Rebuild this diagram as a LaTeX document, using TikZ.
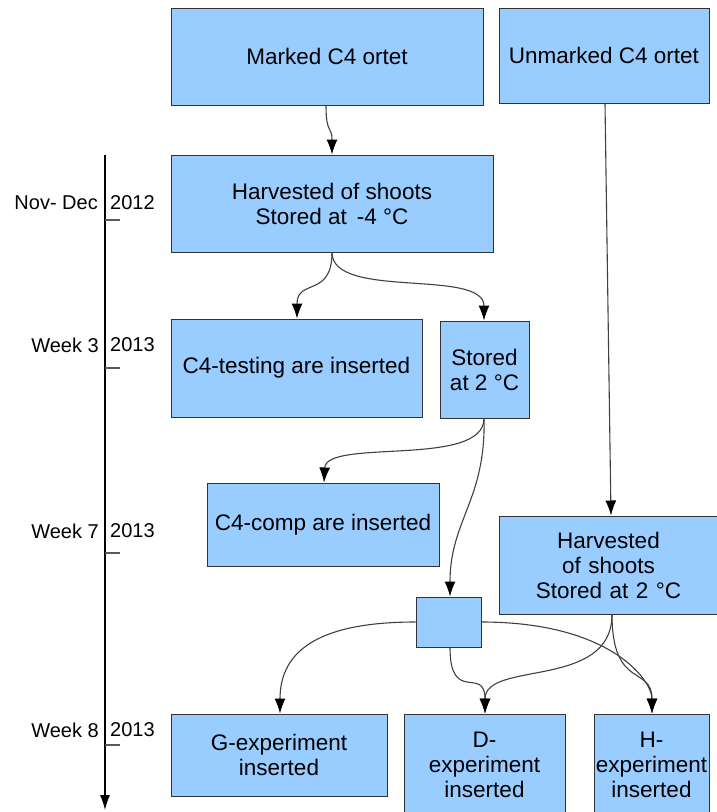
\documentclass[tikz,border=0pt]{standalone}
\usepackage{fontspec}
\setmainfont{Liberation Sans}
\usetikzlibrary{arrows.meta}
\definecolor{boxfill}{HTML}{99CCFF}
\definecolor{boxline}{HTML}{333333}
\tikzset{
  box/.style={draw=boxline, line width=1pt, fill=boxfill, align=center, inner sep=0pt,
    font=\fontsize{22.5}{25}\selectfont},
  conn/.style={draw=black!75, line width=1.1pt, -{Latex[length=15pt,width=11pt,black]}},
  lbl/.style={font=\fontsize{20}{22}\selectfont, inner sep=0pt},
  tick/.style={draw=black!65, line width=1.1pt}
}
\begin{document}
\begin{tikzpicture}[x=1pt,y=-1pt]
\useasboundingbox (0,0) rectangle (717,812);
\clip (0,0) rectangle (717,812);
% boxes
\node[box, minimum width=312, minimum height=97] (m) at (327,56.5) {Marked C4 ortet};
\node[box, minimum width=210, minimum height=95] (u) at (604,55.5) {Unmarked C4 ortet};
\node[box, minimum width=322, minimum height=97] (h1) at (332,203.5) {Harvested of shoots\\Stored at \,-4 °C};
\node[box, minimum width=251, minimum height=98] (t) at (296.5,368) {C4-testing are inserted};
\node[box, minimum width=89, minimum height=97] (s) at (484.5,369.5) {Stored\\at 2 °C};
\node[box, minimum width=232, minimum height=83] (c) at (323,524.5) {C4-comp are inserted};
\node[box, minimum width=226, minimum height=98, text width=218, anchor=west] (h2) at (499,565) {\hspace*{-8pt}Harvested\\\hspace*{-8pt}of shoots\\\hspace*{-8pt}Stored at 2 °C};
\node[box, minimum width=65, minimum height=50] (sm) at (448.5,622) {};
\node[box, minimum width=216, minimum height=82] (g) at (279,755) {G-experiment\\inserted};
\node[box, minimum width=161, minimum height=102] (d) at (484.5,765) {D-\\experiment\\inserted};
\node[box, minimum width=115, minimum height=102] (hh) at (651.5,765) {H-\\experiment\\inserted};
% timeline
\coordinate (tl0) at (105,155);
\coordinate (tl1) at (105,810);
\draw[line width=1.1pt, -{Latex[length=15pt,width=10pt]}] (tl0) -- (tl1);
\coordinate (k1) at (105,220); \coordinate (k1e) at (120,220);
\coordinate (k2) at (105,368); \coordinate (k2e) at (120,368);
\coordinate (k3) at (105,553); \coordinate (k3e) at (120,553);
\coordinate (k4) at (105,745); \coordinate (k4e) at (120,745);
\draw[tick] (k1) -- (k1e);
\draw[tick] (k2) -- (k2e);
\draw[tick] (k3) -- (k3e);
\draw[tick] (k4) -- (k4e);
\node[lbl, anchor=east] (l1) at (98,203) {Nov- Dec};
\node[lbl, anchor=west] (y1) at (110,203) {2012};
\node[lbl, anchor=east] (l2) at (99,345) {Week 3};
\node[lbl, anchor=west] (y2) at (110,345) {2013};
\node[lbl, anchor=east] (l3) at (99,531) {Week 7};
\node[lbl, anchor=west] (y3) at (110,531) {2013};
\node[lbl, anchor=east] (l4) at (99,730) {Week 8};
\node[lbl, anchor=west] (y4) at (110,730) {2013};
% connectors
\draw[conn] (m.south -| 326,0) .. controls (326,135) and (332,125) .. (h1.north);
\draw[conn] (u.south -| 605,0) -- (h2.north -| 611,0);
\draw[conn] (h1.south) .. controls (332,298) and (297,278) .. (t.north -| 297,0);
\draw[conn] (h1.south) .. controls (332,300) and (484,268) .. (s.north -| 484,0);
\draw[conn] (s.south -| 484,0) .. controls (484,468) and (326,438) .. (c.north -| 324,0);
\draw[conn] (s.south -| 484,0) .. controls (486,500) and (450,520) .. (sm.north -| 450,0);
\draw[conn] (sm.west) .. controls (320,622) and (280,650) .. (g.north -| 280,0);
\draw[conn] (sm.south -| 450,0) .. controls (450,705) and (485,665) .. (d.north -| 485,0);
\draw[conn] (sm.east) .. controls (610,622) and (652,680) .. (hh.north -| 652,0);
\draw[conn] (h2.south -| 612,0) .. controls (612,690) and (485,660) .. (d.north -| 485,0);
\draw[conn] (h2.south -| 612,0) .. controls (612,690) and (652,665) .. (hh.north -| 652,0);
\end{tikzpicture}
\end{document}
